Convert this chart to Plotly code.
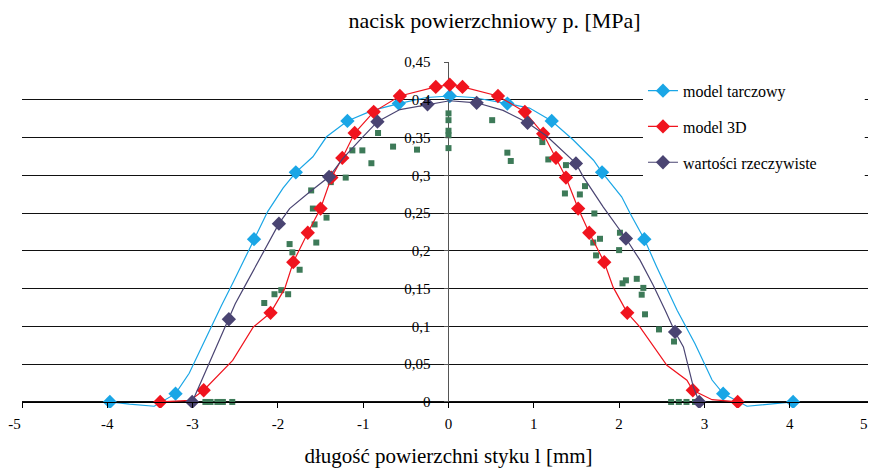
import plotly.graph_objects as go

# model tarczowy - line points, markers at the subset below
tarcz_line_x = [-3.97, -3.74, -3.45, -3.2, -3.04, -2.84, -2.66, -2.53, -2.28, -2.12, -1.94, -1.79,
                -1.59, -1.43, -1.185, -0.89, -0.583, -0.26, 0.015, 0.29, 0.69, 0.95, 1.21, 1.46,
                1.70, 1.80, 2.03, 2.13, 2.296, 2.44, 2.68, 2.89, 3.09, 3.22, 3.5, 3.73, 4.04]
tarcz_line_y = [0, -0.003, -0.0057, 0.011, 0.038, 0.086, 0.128, 0.157, 0.2155, 0.252, 0.283, 0.304,
                0.3245, 0.351, 0.372, 0.386, 0.395, 0.403, 0.405, 0.403, 0.395, 0.389, 0.372, 0.347,
                0.320, 0.304, 0.2715, 0.2495, 0.2155, 0.179, 0.1215, 0.077, 0.029, 0.011, -0.0057, -0.0035, 0]
tarcz_pts_x = [-3.97, -3.2, -2.28, -1.79, -1.185, -0.583, 0.015, 0.69, 1.21, 1.80, 2.296, 3.22, 4.04]
tarcz_pts_y = [0, 0.011, 0.2155, 0.304, 0.372, 0.395, 0.405, 0.395, 0.372, 0.304, 0.2155, 0.011, 0]

# model 3D
m3d_line_x = [-3.38, -3.03, -2.87, -2.53, -2.29, -2.086, -1.92, -1.82, -1.65, -1.50, -1.373, -1.245,
              -1.10, -0.877, -0.57, -0.149, 0.015, 0.164, 0.58, 0.895, 1.11, 1.26, 1.377, 1.52, 1.65,
              1.826, 1.93, 2.096, 2.245, 2.56, 2.795, 2.864, 3.09, 3.39]
m3d_line_y = [0, 0.002, 0.0155, 0.055, 0.099, 0.118, 0.150, 0.185, 0.224, 0.256, 0.297, 0.323,
              0.356, 0.384, 0.405, 0.417, 0.420, 0.417, 0.405, 0.384, 0.355, 0.323, 0.297, 0.256, 0.224,
              0.185, 0.152, 0.118, 0.099, 0.0486, 0.0287, 0.0155, 0.003, 0]
m3d_pts_x = [-3.38, -2.87, -2.086, -1.82, -1.65, -1.50, -1.373, -1.245, -1.10, -0.877, -0.57, -0.149,
             0.015, 0.164, 0.58, 0.895, 1.11, 1.26, 1.377, 1.52, 1.65, 1.826, 2.096, 2.864, 3.39]
m3d_pts_y = [0, 0.0155, 0.118, 0.185, 0.224, 0.256, 0.297, 0.323, 0.356, 0.384, 0.405, 0.417,
             0.420, 0.417, 0.405, 0.384, 0.355, 0.323, 0.297, 0.256, 0.224, 0.185, 0.118, 0.0155, 0]

# wartości rzeczywiste
rzecz_line_x = [-3.005, -2.575, -2.50, -2.37, -1.988, -1.863, -1.628, -1.40, -1.237, -1.04, -0.833,
                -0.57, -0.246, 0.015, 0.33, 0.64, 0.927, 1.15, 1.494, 1.58, 1.815, 2.08, 2.245, 2.40,
                2.54, 2.656, 2.754, 2.87, 2.94]
rzecz_line_y = [0, 0.1095, 0.13, 0.157, 0.236, 0.256, 0.278, 0.298, 0.3224, 0.3466, 0.371,
                0.387, 0.394, 0.3987, 0.396, 0.386, 0.3695, 0.352, 0.3158, 0.298, 0.258, 0.2164, 0.1877, 0.1546,
                0.1215, 0.0927, 0.0728, 0.0199, 0]
rzecz_pts_x = [-3.005, -2.575, -1.988, -1.40, -0.833, -0.246, 0.33, 0.927, 1.494, 2.08, 2.656, 2.94]
rzecz_pts_y = [0, 0.1095, 0.236, 0.298, 0.371, 0.394, 0.396, 0.3695, 0.3158, 0.2164, 0.0927, 0]

# measured points (green squares, not in legend)
pomiar_x = [-2.85, -2.79, -2.71, -2.645, -2.535, -2.16, -2.04, -1.96, -1.88, -1.863, -1.83, -1.745,
            -1.55, -1.57, -1.43, -1.59, -1.61, -1.38, -1.205, -1.127, -1.01, -0.904, -0.826, -0.65,
            -0.369, 0, 0, 0, 0, 0, 0.512, 0.69, 0.73, 1.09, 1.10, 1.17, 1.377, 1.60, 1.365, 1.54,
            1.71, 2.01, 1.776, 1.697, 1.73, 2.0, 2.08, 2.04, 2.207, 2.284, 2.265, 2.304, 2.468, 2.644,
            2.61, 2.70, 2.79, 2.89, 2.95]
pomiar_y = [0, 0, 0, 0, 0, 0.131, 0.1426, 0.148, 0.1426, 0.209, 0.198, 0.175,
            0.211, 0.235, 0.244, 0.256, 0.280, 0.291, 0.297, 0.333, 0.333, 0.316, 0.356, 0.338,
            0.334, 0.382, 0.373, 0.359, 0.353, 0.336, 0.373, 0.330, 0.319, 0.352, 0.344, 0.321, 0.3135, 0.2857, 0.276, 0.2747,
            0.2495, 0.224, 0.216, 0.211, 0.194, 0.201, 0.161, 0.157, 0.163, 0.151, 0.142, 0.116, 0.096, 0.080,
            0, 0, 0, 0, 0]

x_ticks = [-5, -4, -3, -2, -1, 0, 1, 2, 3, 4, 5]
# the end labels sit a little inwards in the original, hence the trailing spaces
x_ticktext = ["-5" + "&nbsp;" * 4, "-4", "-3", "-2", "-1", "0", "1", "2", "3", "4", "5" + "&nbsp;" * 6]

FONT = "Liberation Serif"
Y_LO, Y_HI = -0.008, 0.45

series = [
    ("model tarczowy", "#1AA6E6", tarcz_line_x, tarcz_line_y, tarcz_pts_x, tarcz_pts_y),
    ("model 3D", "#F0141E", m3d_line_x, m3d_line_y, m3d_pts_x, m3d_pts_y),
    ("wartości rzeczywiste", "#4A4472", rzecz_line_x, rzecz_line_y, rzecz_pts_x, rzecz_pts_y),
]

fig = go.Figure()

fig.add_trace(go.Scatter(x=pomiar_x, y=pomiar_y, mode="markers", showlegend=False,
                         marker=dict(symbol="square", size=6, color="#3D7A58")))

for name, col, lx, ly, px_, py_ in series:
    fig.add_trace(go.Scatter(x=lx, y=ly, mode="lines", showlegend=False, legendgroup=name,
                             line=dict(color=col, width=1.2)))
    fig.add_trace(go.Scatter(x=px_, y=py_, mode="markers", showlegend=False, legendgroup=name,
                             marker=dict(symbol="diamond", size=11, color=col)))
    # legend entry only
    fig.add_trace(go.Scatter(x=[None], y=[None], mode="lines+markers", name=name, legendgroup=name,
                             line=dict(color=col, width=1.2),
                             marker=dict(symbol="diamond", size=11, color=col)))

# vertical axis line at x = 0
fig.add_shape(type="line", x0=0, x1=0, y0=0, y1=Y_HI, xref="x", yref="y",
              line=dict(color="#555555", width=1), layer="below")
# white area behind the legend (hides the gridlines there)
fig.add_shape(type="rect", xref="paper", yref="paper", x0=0.728, x1=0.988, y0=0.625, y1=0.972,
              fillcolor="white", line=dict(width=0), layer="above")

tick_font = dict(family=FONT, size=15, color="black")

# the page has an 8px body margin, so the figure is 8px smaller than the window
fig.update_layout(
    width=868, height=460,
    margin=dict(l=14, r=1, t=54, b=60, autoexpand=False),
    paper_bgcolor="white", plot_bgcolor="white",
    font=dict(family=FONT, size=15, color="black"),
    separators=",.",
    title=dict(text="nacisk powierzchniowy p. [MPa]", x=0.5606, xref="container", xanchor="center",
               y=0.973, yref="container", yanchor="middle",
               font=dict(family=FONT, size=22, color="black")),
    legend=dict(x=0.728, y=0.966, xanchor="left", yanchor="top", bgcolor="rgba(0,0,0,0)",
                font=dict(family=FONT, size=16, color="black"),
                traceorder="grouped", tracegroupgap=12),
    xaxis=dict(range=[-5, 5], anchor="free", position=(0 - Y_LO) / (Y_HI - Y_LO),
               tickmode="array", tickvals=x_ticks, ticktext=x_ticktext, tickfont=tick_font,
               ticklabeloverflow="allow", automargin=False,
               showline=True, linecolor="black", linewidth=1,
               ticks="outside", ticklen=5, tickcolor="black",
               showgrid=False, zeroline=False, ticklabelstandoff=3,
               title=dict(text="długość powierzchni styku l [mm]", standoff=19,
                          font=dict(family=FONT, size=21, color="black"))),
    yaxis=dict(range=[Y_LO, Y_HI], anchor="free", position=0.5, tickfont=tick_font,
               automargin=False,
               tick0=0, dtick=0.05, showgrid=True, gridcolor="#111111", gridwidth=1,
               ticks="outside", ticklen=5, tickcolor="#555555",
               showline=False, zeroline=False, ticklabelstandoff=10),
)

fig.write_html("out.html")
